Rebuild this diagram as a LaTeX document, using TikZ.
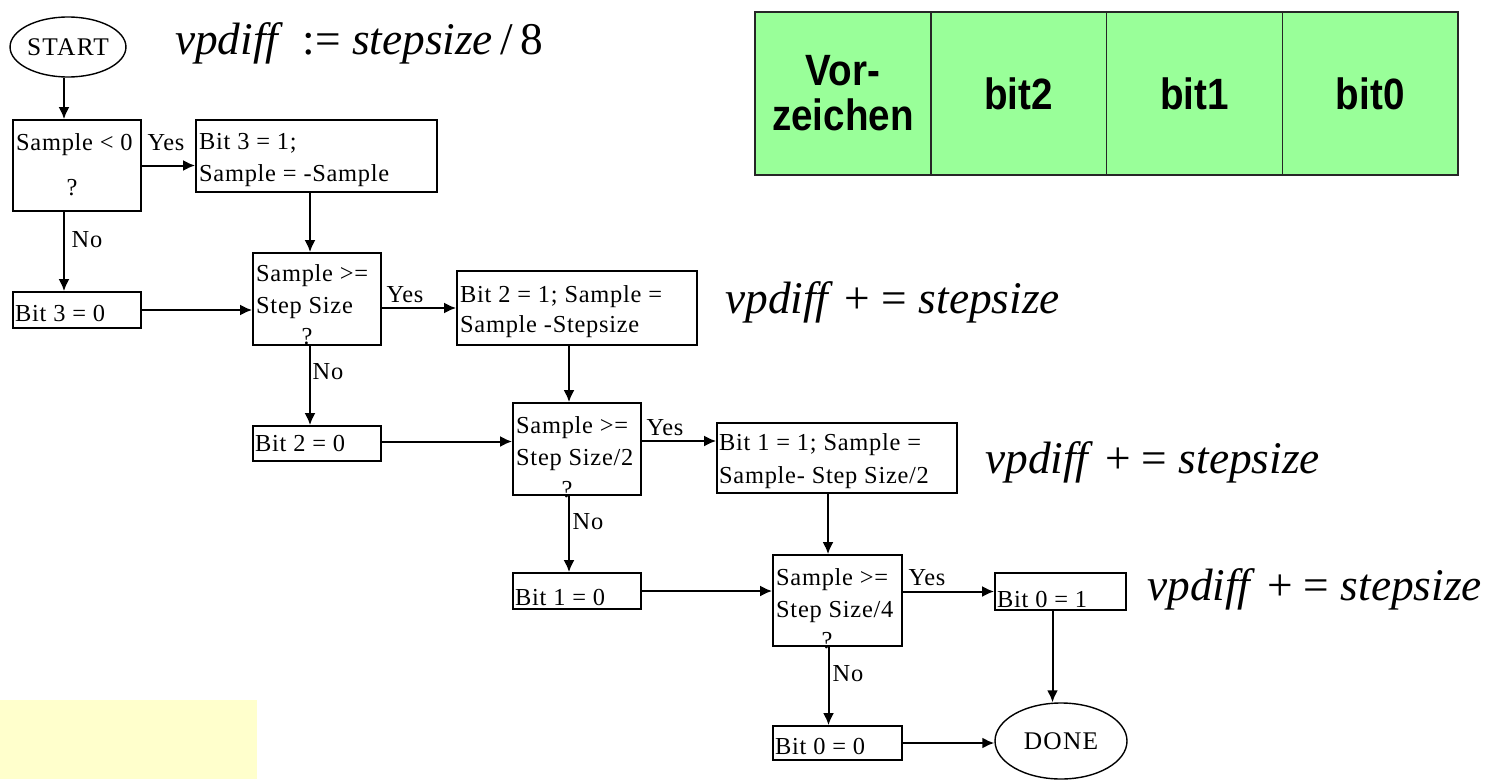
\documentclass[tikz,border=0pt]{standalone}
\usepackage{fontspec}
\setmainfont{Liberation Serif}
\newfontfamily\flowfont[LetterSpace=3]{Liberation Serif}
\newfontfamily\termfont[LetterSpace=5]{Liberation Serif}
\newfontfamily\tblfont[FakeStretch=0.88]{Liberation Sans}
\usetikzlibrary{arrows.meta,shapes.geometric}
\definecolor{cellgreen}{HTML}{99FF99}
\definecolor{notey}{HTML}{FFFFCC}
\begin{document}
\begin{tikzpicture}[x=1bp,y=-1bp,
  box/.style={draw, line width=1.8bp, inner sep=0pt},
  txt/.style={inner sep=0pt, font=\flowfont\fontsize{24.5}{26}\selectfont},
  lbl/.style={inner sep=0pt, font=\flowfont\fontsize{24.5}{26}\selectfont},
  term/.style={draw, ellipse, line width=1.4bp, inner sep=0pt, font=\termfont\fontsize{25.5}{26}\selectfont},
  arr/.style={-{Latex[length=12bp,width=11bp]}, line width=2bp},
  vp/.style={inner sep=0pt, font=\fontsize{45.5}{50}\selectfont},
  cell/.style={draw=black!85, line width=1.5bp, fill=cellgreen, minimum width=175.75bp, minimum height=163bp, inner sep=0pt, outer sep=0pt, align=center, font=\tblfont\bfseries\fontsize{44}{45}\selectfont}]
\useasboundingbox (0,0) rectangle (1497,779);

% yellow note
\node[fill=notey, inner sep=0pt, outer sep=0pt, minimum width=257bp, minimum height=79bp, anchor=north west] (note) at (0,700) {};

% table
\node[cell, anchor=north west] (c0) at (755,12) {\raisebox{-5bp}{\parbox{170bp}{\centering Vor-\\zeichen}}};
\node[cell, anchor=north west] (c1) at (c0.north east) {bit2};
\node[cell, anchor=north west] (c2) at (c1.north east) {bit1};
\node[cell, anchor=north west] (c3) at (c2.north east) {bit0};

% terminals
\node[term, minimum width=112bp, minimum height=60bp] (start) at (68,47) {START};
\node[term, minimum width=132bp, minimum height=76bp] (done) at (1061,741) {DONE};

% boxes
\node[box, minimum width=128bp, minimum height=91bp] (d1) at (77,165.5) {};
\node[box, minimum width=241bp, minimum height=72bp] (b2) at (316.5,156) {};
\node[box, minimum width=128bp, minimum height=36bp] (b30) at (77,310) {};
\node[box, minimum width=128bp, minimum height=92bp] (d2) at (317,299) {};
\node[box, minimum width=240bp, minimum height=74bp] (b21) at (577,308) {};
\node[box, minimum width=128bp, minimum height=35bp] (b20) at (317,443.5) {};
\node[box, minimum width=128bp, minimum height=92bp] (d3) at (577,449) {};
\node[box, minimum width=240bp, minimum height=70bp] (b11) at (837,458) {};
\node[box, minimum width=128bp, minimum height=36bp] (b10) at (577,591) {};
\node[box, minimum width=129bp, minimum height=91bp] (d4) at (837.5,600.5) {};
\node[box, minimum width=131bp, minimum height=37bp] (b01) at (1060.5,591.5) {};
\node[box, minimum width=129bp, minimum height=34bp] (b00) at (837.5,743) {};

% box texts
\node[txt, anchor=west] (t1) at (16,145) {Sample < 0};
\node[txt] (t2) at (72,188) {?};
\node[txt, anchor=west] (t3) at (199,143) {Bit 3 = 1;};
\node[txt, anchor=west] (t4) at (199,176) {Sample = -Sample};
\node[txt, anchor=west] (t5) at (15,313) {Bit 3 = 0};
\node[txt, anchor=west] (t6) at (256,276) {Sample >=};
\node[txt, anchor=west] (t7) at (256,308) {Step Size};
\node[txt] (t8) at (307,337) {?};
\node[txt, anchor=west] (t9) at (460,297) {Bit 2 = 1; Sample =};
\node[txt, anchor=west] (t10) at (460,327) {Sample -Stepsize};
\node[txt, anchor=west] (t11) at (255,443) {Bit 2 = 0};
\node[txt, anchor=west] (t12) at (516,428) {Sample >=};
\node[txt, anchor=west] (t13) at (516,460) {Step Size/2};
\node[txt] (t14) at (567,490) {?};
\node[txt, anchor=west] (t15) at (719,445) {Bit 1 = 1; Sample =};
\node[txt, anchor=west] (t16) at (719,478) {Sample- Step Size/2};
\node[txt, anchor=west] (t17) at (515,597) {Bit 1 = 0};
\node[txt, anchor=west] (t18) at (776,580) {Sample >=};
\node[txt, anchor=west] (t19) at (776,612) {Step Size/4};
\node[txt] (t20) at (827,641) {?};
\node[txt, anchor=west] (t21) at (997,599) {Bit 0 = 1};
\node[txt, anchor=west] (t22) at (775,746) {Bit 0 = 0};

% yes / no labels
\node[lbl] (y1) at (166,143) {Yes};
\node[lbl] (n1) at (87,240) {No};
\node[lbl] (y2) at (405,295) {Yes};
\node[lbl] (n2) at (328,372) {No};
\node[lbl] (y3) at (665,428) {Yes};
\node[lbl] (n3) at (588,522) {No};
\node[lbl] (y4) at (927,578) {Yes};
\node[lbl] (n4) at (848,674) {No};

% vpdiff formulas
\node[vp, anchor=base west] (v0) at (175,55) {\textit{vpdiff}\, := \textit{stepsize}\,/\,8};
\node[vp, anchor=base west] (v1) at (725,313) {\textit{vpdiff} + = \textit{stepsize}};
\node[vp, anchor=base west] (v2) at (985,473) {\textit{vpdiff} + = \textit{stepsize}};
\node[vp, anchor=base west] (v3) at (1147,600) {\textit{vpdiff} + = \textit{stepsize}};

% connectors
\draw[arr] ([xshift=-4bp]start.south) -- ([xshift=-4bp]start.south |- d1.north);
\draw[arr] (d1.east) -- (d1.east -| b2.west);
\draw[arr] ([xshift=-13bp]d1.south) -- ([xshift=-13bp]d1.south |- b30.north);
\draw[arr] (b30.east) -- (b30.east -| d2.west);
\draw[arr] ([xshift=-7bp]d2.north |- b2.south) -- ([xshift=-7bp]d2.north);
\draw[arr] (b21.west -| d2.east) -- (b21.west);
\draw[arr] ([xshift=-7bp]d2.south) -- ([xshift=-7bp]d2.south |- b20.north);
\draw[arr] ([yshift=2bp]b20.east) -- ([yshift=2bp]b20.east -| d3.west);
\draw[arr] ([xshift=-8bp]b21.south) -- ([xshift=-8bp]b21.south |- d3.north);
\draw[arr] ([yshift=8bp]d3.east) -- ([yshift=8bp]d3.east -| b11.west);
\draw[arr] ([xshift=-8bp]d3.south) -- ([xshift=-8bp]d3.south |- b10.north);
\draw[arr] (b10.east) -- (b10.east -| d4.west);
\draw[arr] ([xshift=-9bp]b11.south) -- ([xshift=-9bp]b11.south |- d4.north);
\draw[arr] (b01.west -| d4.east) -- (b01.west);
\draw[arr] ([xshift=-9bp]d4.south) -- ([xshift=-9bp]d4.south |- b00.north);
\draw[arr] (b00.east) -- (b00.east -| done.west);
\draw[arr] ([xshift=-8bp]b01.south) -- ([xshift=-8bp]b01.south |- done.north);
\end{tikzpicture}
\end{document}
